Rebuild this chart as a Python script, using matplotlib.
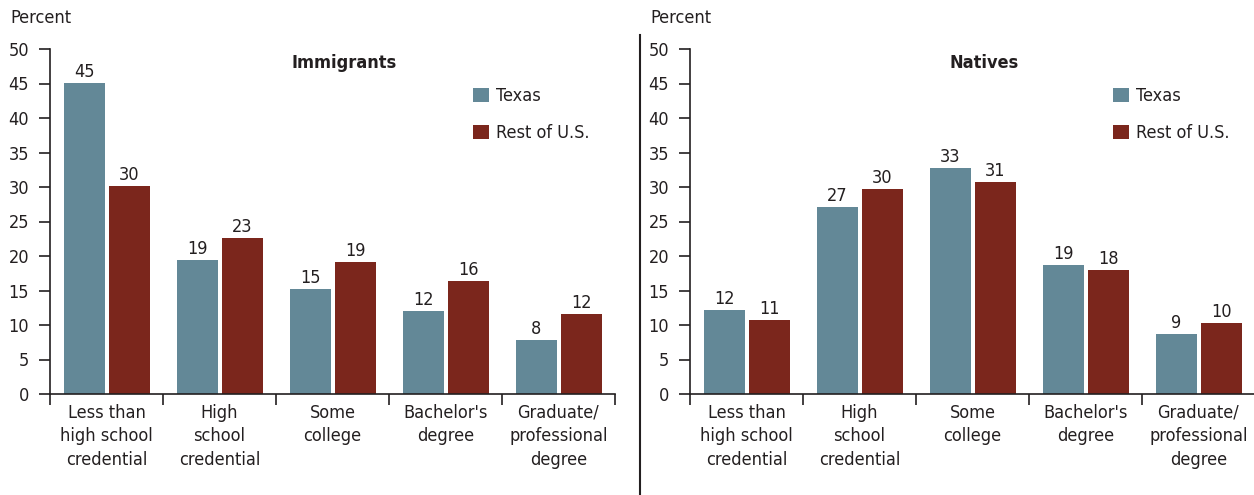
import numpy as np
import matplotlib.pyplot as plt
from matplotlib.lines import Line2D

plt.rcParams['font.family'] = ['DejaVu Sans']
plt.rcParams['font.stretch'] = 'condensed'
plt.rcParams['text.color'] = '#231f20'
plt.rcParams['axes.edgecolor'] = '#231f20'
plt.rcParams['xtick.color'] = '#231f20'
plt.rcParams['ytick.color'] = '#231f20'

# data
categories = ["Less than\nhigh school\ncredential", "High\nschool\ncredential",
              "Some\ncollege", "Bachelor's\ndegree", "Graduate/\nprofessional\ndegree"]
imm_texas = [45.1, 19.4, 15.2, 12.0, 7.8]
imm_rest = [30.1, 22.6, 19.1, 16.4, 11.6]
imm_texas_lbl = ["45", "19", "15", "12", "8"]
imm_rest_lbl = ["30", "23", "19", "16", "12"]
nat_texas = [12.2, 27.1, 32.8, 18.7, 8.7]
nat_rest = [10.7, 29.7, 30.7, 18.0, 10.3]
nat_texas_lbl = ["12", "27", "33", "19", "9"]
nat_rest_lbl = ["11", "30", "31", "18", "10"]

c_texas = '#638897'
c_rest = '#7b261c'

fig = plt.figure(figsize=(12.54, 4.95), dpi=100)
W, H = 1254, 495


def panel(left_px, title, texas, rest, t_lbl, r_lbl):
    ax = fig.add_axes([left_px / W, (H - 394) / H, 565 / W, 345 / H])
    x = np.arange(len(categories)) + 0.5
    b1 = ax.bar(x - 0.195, texas, width=0.362, color=c_texas, label='Texas')
    b2 = ax.bar(x + 0.2, rest, width=0.362, color=c_rest, label='Rest of U.S.')
    for bars, lbls in ((b1, t_lbl), (b2, r_lbl)):
        for b, s in zip(bars, lbls):
            ax.text(b.get_x() + b.get_width() / 2, b.get_height() + 0.3, s,
                    ha='center', va='bottom', fontsize=13)
    ax.set_xlim(0, 5)
    ax.set_ylim(0, 50)
    ax.set_yticks(np.arange(0, 51, 5))
    ax.tick_params(axis='y', length=8, width=1.2, pad=7, labelsize=13)
    ax.set_xticks(np.arange(0, 6))
    ax.set_xticklabels([])
    ax.tick_params(axis='x', which='major', length=8, width=1.2)
    ax.set_xticks(x, minor=True)
    ax.set_xticklabels(categories, minor=True, fontsize=13, linespacing=1.4)
    ax.tick_params(axis='x', which='minor', length=0, pad=7)
    for s in ('top', 'right'):
        ax.spines[s].set_visible(False)
    ax.spines['left'].set_linewidth(1.2)
    ax.spines['bottom'].set_linewidth(1.2)
    ax.text(0.52, 0.96, title, transform=ax.transAxes, ha='center', va='center',
            fontsize=13, fontweight='bold')
    ax.legend(loc='upper left', bbox_to_anchor=(0.733, 0.915), frameon=False,
              fontsize=13, handlelength=0.85, handleheight=0.85,
              handletextpad=0.4, labelspacing=1.05, borderpad=0)
    fig.text((left_px - 40) / W, 1 - 18 / H, 'Percent', ha='left', va='center',
             fontsize=13)
    return ax


panel(50, 'Immigrants', imm_texas, imm_rest, imm_texas_lbl, imm_rest_lbl)
panel(690, 'Natives', nat_texas, nat_rest, nat_texas_lbl, nat_rest_lbl)

fig.add_artist(Line2D([640 / W, 640 / W], [0, 1 - 35 / H], color='#231f20', lw=1.5))

fig.savefig('out.png', dpi=100)
